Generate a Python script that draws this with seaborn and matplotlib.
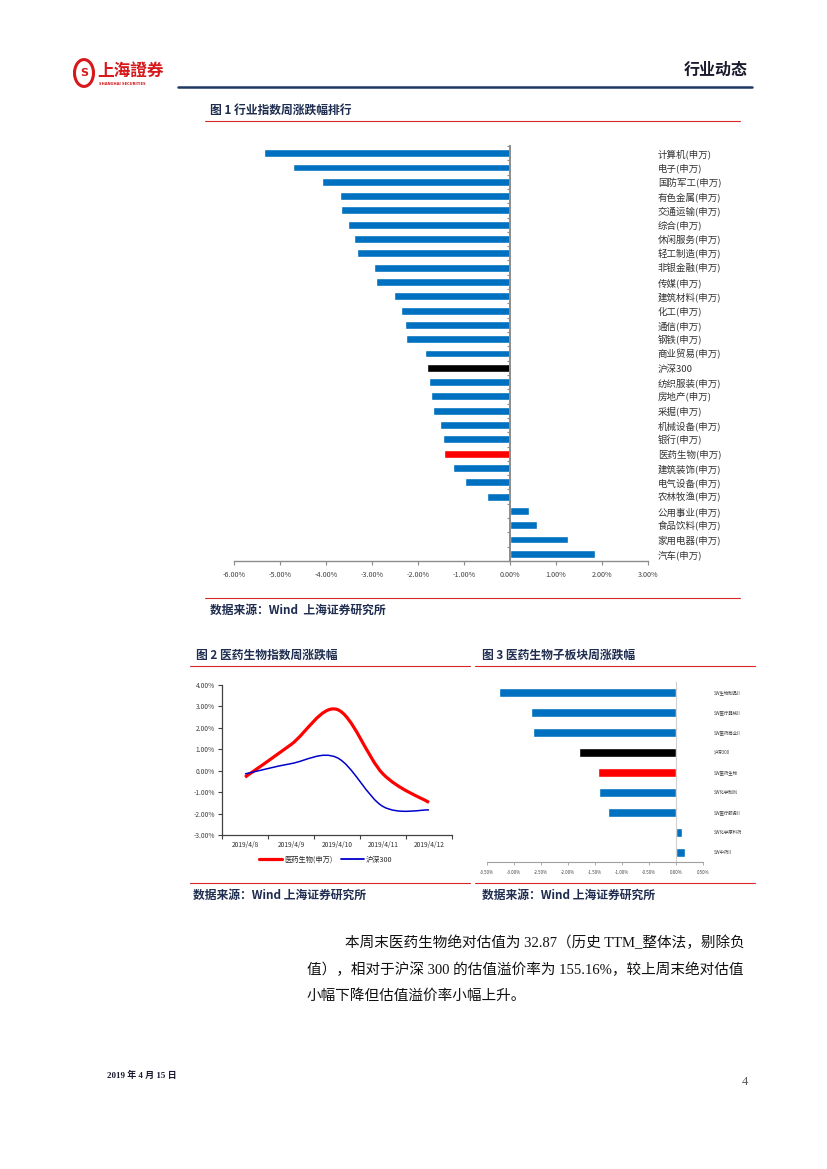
import numpy as np
import pandas as pd
import matplotlib
matplotlib.use("Agg")
import matplotlib.pyplot as plt
import seaborn as sns
from matplotlib.path import Path
from matplotlib.patches import PathPatch, Circle
from matplotlib.lines import Line2D
from matplotlib.ticker import FixedLocator, FuncFormatter, NullFormatter

# ---------------- data ----------------
# 图1 行业指数周涨跌幅排行 (%)
industries = ["计算机(申万)", "电子(申万)", "国防军工(申万)", "有色金属(申万)", "交通运输(申万)",
              "综合(申万)", "休闲服务(申万)", "轻工制造(申万)", "非银金融(申万)", "传媒(申万)",
              "建筑材料(申万)", "化工(申万)", "通信(申万)", "钢铁(申万)", "商业贸易(申万)",
              "沪深300", "纺织服装(申万)", "房地产(申万)", "采掘(申万)", "机械设备(申万)",
              "银行(申万)", "医药生物(申万)", "建筑装饰(申万)", "电气设备(申万)", "农林牧渔(申万)",
              "公用事业(申万)", "食品饮料(申万)", "家用电器(申万)", "汽车(申万)"]
industry_chg = [-5.35, -4.72, -4.09, -3.70, -3.68,
                -3.52, -3.39, -3.33, -2.96, -2.92,
                -2.52, -2.38, -2.29, -2.26, -1.85,
                -1.80, -1.77, -1.72, -1.68, -1.53,
                -1.46, -1.44, -1.24, -0.98, -0.51,
                0.42, 0.59, 1.27, 1.85]

# 图2 医药生物指数周涨跌幅 (%)
dates = ["2019/4/8", "2019/4/9", "2019/4/10", "2019/4/11", "2019/4/12"]
pharma_daily = [-0.30, 1.22, 2.86, -0.15, -1.48]
hs300_daily = [-0.15, 0.33, 0.61, -1.67, -1.83]

# 图3 医药生物子板块周涨跌幅 (%)
subsectors = ["SW生物制品II", "SW医疗器械II", "SW医药商业II", "沪深300", "SW医药生物",
              "SW化学制剂", "SW医疗服务II", "SW化学原料药", "SW中药II"]
subsector_chg = [-3.28, -2.68, -2.64, -1.80, -1.44, -1.42, -1.26, 0.12, 0.16]

# ---------------- style ----------------
W, H = 827, 1169
BLUE = "#0070C0"
RED = "#FF0000"
NAVY = "#1F2D50"
LINE_RED = "#D9252A"

sns.set_theme(style="white")
plt.rcParams["font.family"] = ["Noto Sans CJK SC", "DejaVu Sans"]
plt.rcParams["axes.unicode_minus"] = False


def fx(x):
    return x / W


def fy(y):
    return 1 - y / H


def box(x0, y0, x1, y1):
    return [fx(x0), fy(y1), (x1 - x0) / W, (y1 - y0) / H]


def hline(fig, x0, x1, y, color, lw):
    fig.add_artist(Line2D([fx(x0), fx(x1)], [fy(y), fy(y)], transform=fig.transFigure,
                          color=color, lw=lw))


def bar_colors(names):
    out = {}
    for n in names:
        if n == "沪深300":
            out[n] = "black"
        elif n in ("医药生物(申万)", "SW医药生物"):
            out[n] = RED
        else:
            out[n] = BLUE
    return out


pct = FuncFormatter(lambda v, _: f"{v:.2f}%")

fig = plt.figure(figsize=(W / 100, H / 100), dpi=100)

# ---------------- header ----------------
fig.add_artist(Circle((fx(84), fy(73)), 9.5 / W, transform=fig.transFigure,
                      facecolor="white", edgecolor="#D7191C", lw=2.2))
fig.text(fx(84), fy(73), "S", color="#D7191C", fontsize=8, fontweight="bold",
         ha="center", va="center", family=["DejaVu Sans"])
fig.text(fx(97), fy(71), "上海證券", color="#D7191C", fontsize=12, fontweight="bold",
         ha="left", va="center")
fig.text(fx(99), fy(84), "SHANGHAI SECURITIES", color="#D7191C", fontsize=2.6,
         fontweight="bold", ha="left", va="center", family=["DejaVu Sans"])
fig.text(fx(748), fy(70), "行业动态", color="#1A1A2E", fontsize=11.5, fontweight="bold",
         ha="right", va="center")
hline(fig, 178, 752, 87, "#1F3864", 1.8)

# ---------------- 图1 ----------------
fig.text(fx(210), fy(110), "图 1 行业指数周涨跌幅排行", color=NAVY, fontsize=8.5,
         fontweight="bold", ha="left", va="center")
hline(fig, 205, 740, 121, LINE_RED, 0.8)

ax1 = fig.add_axes(box(234, 146, 648, 561))
df1 = pd.DataFrame({"name": industries, "chg": industry_chg})
sns.barplot(data=df1, x="chg", y="name", hue="name", palette=bar_colors(industries),
            legend=False, orient="h", width=0.55, saturation=1, ax=ax1)
ax1.set_xlim(-6, 3)
ax1.set_xticks(np.arange(-6, 3.01, 1))
ax1.xaxis.set_major_formatter(pct)
ax1.set_xlabel("")
ax1.set_ylabel("")
for s in ("top", "right"):
    ax1.spines[s].set_visible(False)
ax1.spines["left"].set_position(("data", 0))
ax1.spines["left"].set_color("#8C8C8C")
ax1.spines["left"].set_linewidth(1.4)
ax1.spines["bottom"].set_color("#8C8C8C")
ax1.spines["bottom"].set_linewidth(1.0)
ax1.yaxis.set_minor_locator(FixedLocator(np.arange(-0.5, len(industries), 1)))
ax1.tick_params(axis="y", which="major", left=False, right=False, labelleft=False,
                labelright=True, labelsize=6.8, labelcolor="#333333", pad=1)
ax1.tick_params(axis="y", which="minor", left=True, length=2.5, width=0.8,
                color="#8C8C8C")
ax1.tick_params(axis="x", bottom=True, length=3, width=0.8, color="#8C8C8C",
                labelsize=5.2, labelcolor="#404040", pad=4)

hline(fig, 205, 740, 598, LINE_RED, 0.8)
fig.text(fx(210), fy(610), "数据来源：Wind  上海证券研究所", color=NAVY, fontsize=8.5,
         fontweight="bold", ha="left", va="center")

# ---------------- 图2 ----------------
fig.text(fx(196), fy(655), "图 2 医药生物指数周涨跌幅", color=NAVY, fontsize=8.5,
         fontweight="bold", ha="left", va="center")
fig.text(fx(482), fy(655), "图 3 医药生物子板块周涨跌幅", color=NAVY, fontsize=8.5,
         fontweight="bold", ha="left", va="center")
hline(fig, 190, 470, 666, LINE_RED, 0.8)
hline(fig, 475, 755, 666, LINE_RED, 0.8)


def smooth_path(xs, ys):
    # Excel-style smoothed line (cubic Bezier through every point)
    pts = np.column_stack([xs, ys]).astype(float)
    n = len(pts)
    verts = [pts[0]]
    codes = [Path.MOVETO]
    for i in range(n - 1):
        p_prev = pts[max(i - 1, 0)]
        p0, p1 = pts[i], pts[i + 1]
        p_next = pts[min(i + 2, n - 1)]
        c1 = p0 + (p1 - p_prev) / 6
        c2 = p1 - (p_next - p0) / 6
        verts += [c1, c2, p1]
        codes += [Path.CURVE4] * 3
    return Path(verts, codes)


ax2 = fig.add_axes(box(222, 685, 452, 835))
xpos = np.arange(len(dates))
ax2.add_patch(PathPatch(smooth_path(xpos, pharma_daily), facecolor="none",
                        edgecolor=RED, lw=2.3))
ax2.add_patch(PathPatch(smooth_path(xpos, hs300_daily), facecolor="none",
                        edgecolor="#0000CC", lw=1.1))
ax2.set_xlim(-0.5, len(dates) - 0.5)
ax2.set_ylim(-3, 4)
ax2.set_yticks(np.arange(-3, 4.01, 1))
ax2.yaxis.set_major_formatter(pct)
ax2.set_xticks(np.arange(-0.5, len(dates), 1))
ax2.xaxis.set_major_formatter(NullFormatter())
ax2.set_xticks(xpos, minor=True)
ax2.set_xticklabels(dates, minor=True)
for s in ("top", "right"):
    ax2.spines[s].set_visible(False)
for s in ("left", "bottom"):
    ax2.spines[s].set_color("#404040")
    ax2.spines[s].set_linewidth(0.9)
ax2.tick_params(axis="y", left=True, length=3, width=0.8, color="#404040",
                labelsize=4.8, labelcolor="#404040", pad=2)
ax2.tick_params(axis="x", which="major", bottom=True, length=3, width=0.8, color="#404040")
ax2.tick_params(axis="x", which="minor", bottom=False, length=0, labelsize=4.8,
                labelcolor="#303030", pad=4)
handles = [Line2D([], [], color=RED, lw=2.3, label="医药生物(申万)"),
           Line2D([], [], color="#0000CC", lw=1.3, label="沪深300")]
ax2.legend(handles=handles, loc="center", bbox_to_anchor=(0.45, -0.165), ncol=2,
           frameon=False, fontsize=5.2, handlelength=3.2, handletextpad=0.2,
           columnspacing=1.2)

# ---------------- 图3 ----------------
ax3 = fig.add_axes(box(487, 682, 703, 862))
df3 = pd.DataFrame({"name": subsectors, "chg": subsector_chg})
sns.barplot(data=df3, x="chg", y="name", hue="name", palette=bar_colors(subsectors),
            legend=False, orient="h", width=0.45, saturation=1, ax=ax3)
ax3.set_xlim(-3.5, 0.5)
ax3.set_xticks(np.arange(-3.5, 0.51, 0.5))
ax3.xaxis.set_major_formatter(pct)
ax3.set_xlabel("")
ax3.set_ylabel("")
for s in ("top", "right"):
    ax3.spines[s].set_visible(False)
ax3.spines["left"].set_position(("data", 0))
ax3.spines["left"].set_color("#D0D0D0")
ax3.spines["left"].set_linewidth(0.8)
ax3.spines["bottom"].set_color("#A0A0A0")
ax3.spines["bottom"].set_linewidth(0.8)
ax3.tick_params(axis="y", left=False, right=False, labelleft=False, labelright=True,
                labelsize=3.2, labelcolor="#404040", pad=2)
ax3.tick_params(axis="x", bottom=True, length=2.5, width=0.6, color="#A0A0A0",
                labelsize=3.2, labelcolor="#404040", pad=3)

hline(fig, 190, 470, 883, LINE_RED, 0.8)
hline(fig, 475, 755, 883, LINE_RED, 0.8)
fig.text(fx(193), fy(895), "数据来源：Wind 上海证券研究所", color=NAVY, fontsize=8.5,
         fontweight="bold", ha="left", va="center")
fig.text(fx(482), fy(895), "数据来源：Wind 上海证券研究所", color=NAVY, fontsize=8.5,
         fontweight="bold", ha="left", va="center")

# ---------------- body text ----------------
body = ["本周末医药生物绝对估值为 32.87（历史 TTM_整体法，剔除负",
        "值），相对于沪深 300 的估值溢价率为 155.16%，较上周末绝对估值",
        "小幅下降但估值溢价率小幅上升。"]
body_x = [345, 307, 307]
body_y = [943, 970, 996]
for t, x, y in zip(body, body_x, body_y):
    fig.text(fx(x), fy(y), t, color="#111111", fontsize=10.5, ha="left", va="center",
             family=["Liberation Serif", "Noto Sans CJK SC"])

# ---------------- footer ----------------
fig.text(fx(107), fy(1075), "2019 年 4 月 15 日", color="#1A1A2E", fontsize=6.5,
         fontweight="bold", ha="left", va="center",
         family=["Liberation Serif", "Noto Sans CJK SC"])
fig.text(fx(748), fy(1082), "4", color="#555555", fontsize=9, ha="right", va="center",
         family=["Liberation Serif"])

fig.savefig("out.png", dpi=100)
